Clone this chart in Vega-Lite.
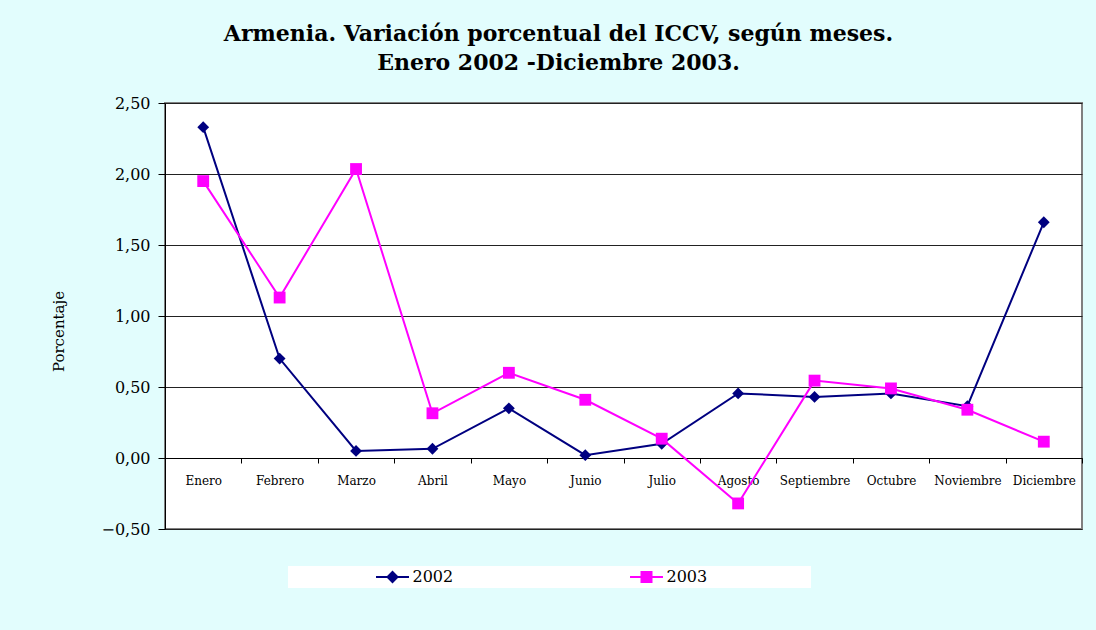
{
  "$schema": "https://vega.github.io/schema/vega-lite/v6.json",
  "autosize": {"type": "none"},
  "width": 917,
  "height": 426,
  "padding": {"left": 165, "top": 103, "right": 14, "bottom": 101},
  "background": "#e2fdfd",
  "title": {
    "text": ["Armenia. Variación porcentual del ICCV, según meses.", "Enero 2002 -Diciembre 2003."],
    "anchor": "middle",
    "frame": "group",
    "dx": -65,
    "offset": 20,
    "font": "DejaVu Serif",
    "fontSize": 22,
    "fontWeight": "bold",
    "lineHeight": 29,
    "color": "#000000"
  },
  "config": {
    "view": {"fill": "#ffffff", "stroke": "#808080", "strokeWidth": 2},
    "axis": {"labelFont": "DejaVu Serif", "titleFont": "DejaVu Serif", "labelColor": "#000000", "titleColor": "#000000"}
  },
  "data": {
    "values": [
      {"mes": "Enero", "anio": "2002", "valor": 2.33},
      {"mes": "Febrero", "anio": "2002", "valor": 0.70},
      {"mes": "Marzo", "anio": "2002", "valor": 0.05},
      {"mes": "Abril", "anio": "2002", "valor": 0.065},
      {"mes": "Mayo", "anio": "2002", "valor": 0.35},
      {"mes": "Junio", "anio": "2002", "valor": 0.02},
      {"mes": "Julio", "anio": "2002", "valor": 0.10},
      {"mes": "Agosto", "anio": "2002", "valor": 0.455},
      {"mes": "Septiembre", "anio": "2002", "valor": 0.43},
      {"mes": "Octubre", "anio": "2002", "valor": 0.455},
      {"mes": "Noviembre", "anio": "2002", "valor": 0.365},
      {"mes": "Diciembre", "anio": "2002", "valor": 1.66},
      {"mes": "Enero", "anio": "2003", "valor": 1.95},
      {"mes": "Febrero", "anio": "2003", "valor": 1.13},
      {"mes": "Marzo", "anio": "2003", "valor": 2.035},
      {"mes": "Abril", "anio": "2003", "valor": 0.315},
      {"mes": "Mayo", "anio": "2003", "valor": 0.60},
      {"mes": "Junio", "anio": "2003", "valor": 0.41},
      {"mes": "Julio", "anio": "2003", "valor": 0.136},
      {"mes": "Agosto", "anio": "2003", "valor": -0.32},
      {"mes": "Septiembre", "anio": "2003", "valor": 0.545},
      {"mes": "Octubre", "anio": "2003", "valor": 0.49},
      {"mes": "Noviembre", "anio": "2003", "valor": 0.34},
      {"mes": "Diciembre", "anio": "2003", "valor": 0.115}
    ]
  },
  "encoding": {
    "x": {
      "field": "mes",
      "type": "nominal",
      "sort": null,
      "scale": {"type": "band", "paddingInner": 0, "paddingOuter": 0},
      "axis": {
        "title": null,
        "labelAngle": 0,
        "offset": -71,
        "tickBand": "extent",
        "tickSize": 5,
        "tickColor": "#000000",
        "domainColor": "#000000",
        "labelFontSize": 12,
        "labelPadding": 12,
        "grid": false
      }
    },
    "y": {
      "field": "valor",
      "type": "quantitative",
      "scale": {"domain": [-0.5, 2.5], "nice": false, "zero": false},
      "axis": {
        "title": "Porcentaje",
        "values": [-0.5, 0, 0.5, 1, 1.5, 2, 2.5],
        "labelExpr": "replace(format(datum.value, '.2f'), '.', ',')",
        "labelFontSize": 16,
        "labelPadding": 8,
        "tickSize": 7,
        "tickColor": "#000000",
        "domainColor": "#000000",
        "grid": true,
        "gridColor": "#222222",
        "gridOpacity": 1,
        "titleFontSize": 15,
        "titleFontWeight": "normal",
        "titleX": -107,
        "titleY": 228,
        "titleBaseline": "middle",
        "titleAlign": "center",
        "titleAngle": -90
      }
    },
    "color": {
      "field": "anio",
      "type": "nominal",
      "scale": {"domain": ["2002", "2003"], "range": ["#000080", "#ff00ff"]},
      "legend": {
        "orient": "none",
        "legendX": 123,
        "legendY": 463,
        "direction": "horizontal",
        "title": "\u00a0",
        "titleOrient": "left",
        "titleFontSize": 10,
        "titlePadding": 85,
        "fillColor": "#ffffff",
        "padding": 3,
        "symbolSize": 256,
        "symbolOffset": 8.5,
        "symbolOpacity": 1,
        "symbolStrokeWidth": 0,
        "labelFont": "DejaVu Serif",
        "labelFontSize": 16,
        "labelColor": "#000000",
        "labelOffset": 12,
        "labelLimit": 400,
        "labelExpr": "datum.label + '\u2003\u2003\u2003\u2003\u2003\u2003\u2005\u200b'",
        "columnPadding": 76
      }
    }
  },
  "layer": [
    {
      "mark": {"type": "point", "filled": true, "size": 0, "opacity": 1},
      "encoding": {
        "shape": {
          "field": "anio",
          "type": "nominal",
          "scale": {
            "domain": ["2002", "2003"],
            "range": [
              "M-2.06,-0.125L2.06,-0.125L2.06,0.125L-2.06,0.125Z M0,-0.8L0.8,0L0,0.8L-0.8,0Z",
              "M-2.06,-0.125L2.06,-0.125L2.06,0.125L-2.06,0.125Z M-0.75,-0.75L0.75,-0.75L0.75,0.75L-0.75,0.75Z"
            ]
          }
        }
      }
    },
    {"mark": {"type": "line", "strokeWidth": 2}},
    {
      "transform": [{"filter": "datum.anio === '2002'"}],
      "mark": {"type": "point", "filled": true, "size": 140, "opacity": 1, "shape": "diamond"}
    },
    {
      "transform": [{"filter": "datum.anio === '2003'"}],
      "mark": {"type": "point", "filled": true, "size": 140, "opacity": 1, "shape": "square"}
    }
  ]
}
